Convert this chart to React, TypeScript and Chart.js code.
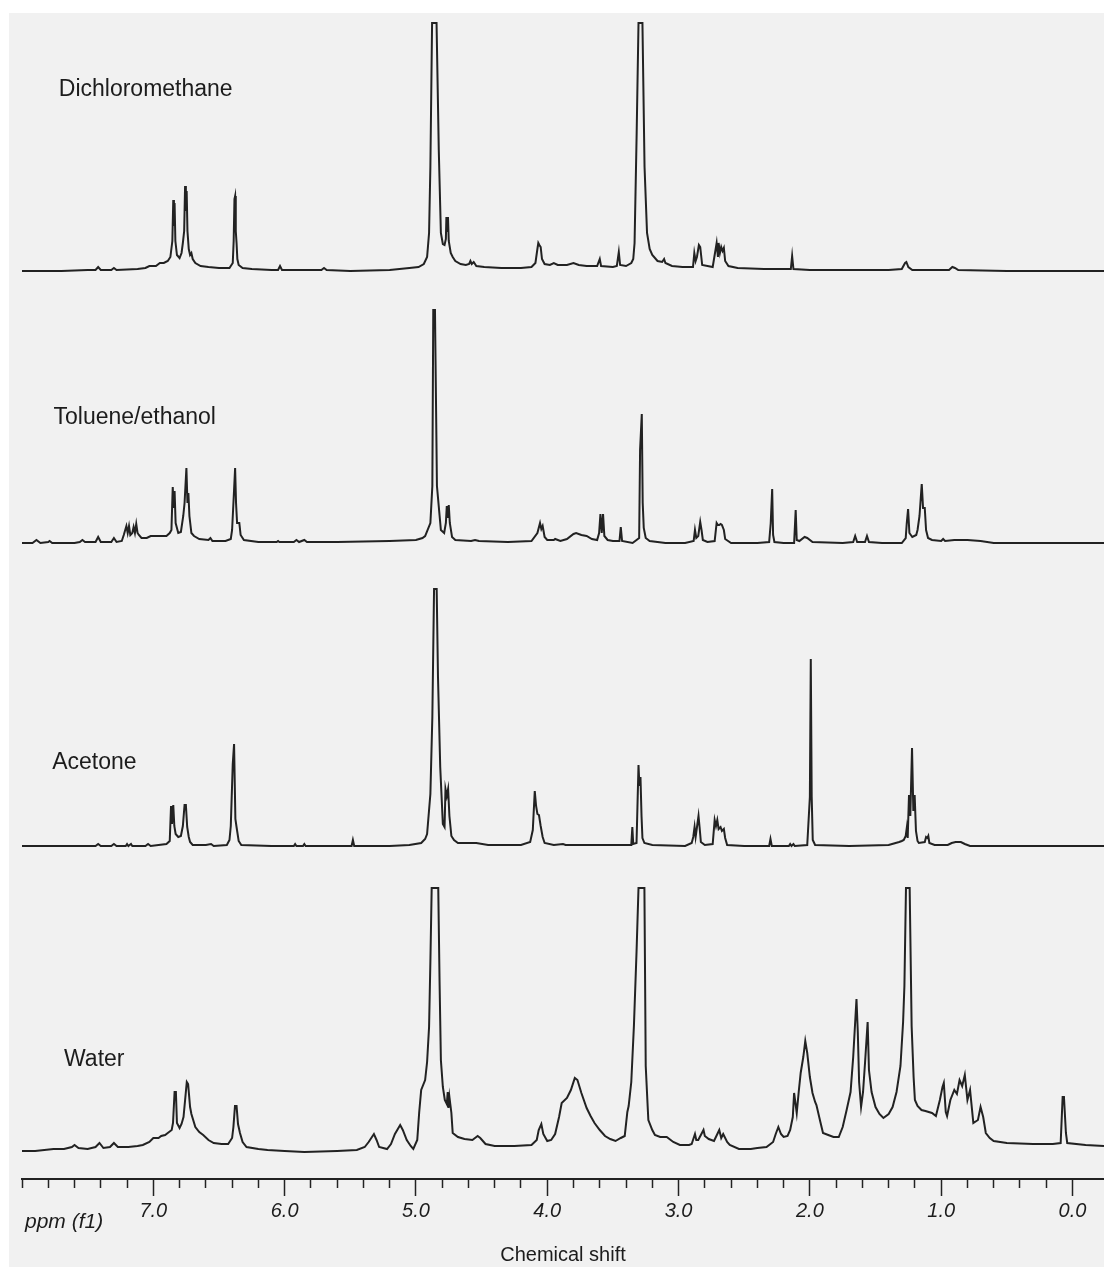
import { useEffect, useRef } from "react";
import { Chart, registerables } from "chart.js";

Chart.register(...registerables);

// ---------- data ----------
const PPM_MIN = -0.24;
const PPM_MAX = 8.0;
const TICK_STEP = 0.2;
const LABELLED_MAX = 7.0;
const AXIS_TITLE = "Chemical shift";
const UNIT_LABEL = "ppm (f1)";
const SPECTRUM_NAMES = ["Dichloromethane", "Toluene/ethanol", "Acetone", "Water"];

// [ppm, intensity] pairs
const DCM: number[][] = [
  [8.0, 0], [7.7, 0], [7.5, 1], [7.44, 1], [7.42, 4], [7.4, 1], [7.32, 1], [7.3, 3], [7.28, 1], [7.12, 2], [7.06, 3], [7.03, 5], [6.98, 5],
  [6.95, 8], [6.92, 8], [6.89, 10], [6.87, 14], [6.855, 30], [6.848, 71], [6.843, 45], [6.838, 68], [6.832, 30], [6.82, 16], [6.8, 13],
  [6.785, 18], [6.775, 28], [6.765, 40], [6.758, 85], [6.752, 60], [6.746, 80], [6.74, 40], [6.73, 22], [6.72, 16], [6.71, 18], [6.7, 12],
  [6.68, 8], [6.64, 5], [6.58, 4], [6.5, 3], [6.42, 3], [6.395, 8], [6.388, 30], [6.382, 72], [6.377, 75], [6.372, 40], [6.366, 28],
  [6.36, 12], [6.35, 6], [6.32, 3], [6.25, 2], [6.1, 1], [6.05, 1], [6.035, 5], [6.02, 1], [5.95, 1], [5.72, 1], [5.7, 3], [5.68, 1],
  [5.5, 0], [5.2, 1], [5.05, 3], [4.98, 4], [4.94, 7], [4.915, 14], [4.9, 38], [4.89, 104], [4.877, 248], [4.843, 248], [4.826, 121],
  [4.81, 38], [4.795, 27], [4.782, 26], [4.772, 32], [4.768, 54], [4.762, 40], [4.756, 54], [4.75, 30], [4.735, 18], [4.72, 14],
  [4.7, 10], [4.66, 7], [4.62, 6], [4.595, 7], [4.585, 10], [4.575, 7], [4.56, 9], [4.54, 5], [4.48, 4], [4.35, 3], [4.2, 3], [4.12, 4],
  [4.09, 8], [4.075, 22], [4.068, 28], [4.06, 26], [4.05, 24], [4.04, 12], [4.02, 7], [3.98, 6], [3.95, 8], [3.92, 6], [3.85, 6],
  [3.8, 8], [3.76, 6], [3.7, 5], [3.62, 5], [3.6, 12], [3.59, 5], [3.5, 4], [3.47, 5], [3.455, 19], [3.445, 6], [3.4, 5], [3.36, 8],
  [3.345, 12], [3.335, 28], [3.319, 138], [3.305, 248], [3.275, 248], [3.259, 104], [3.24, 38], [3.22, 22], [3.2, 16], [3.16, 10],
  [3.125, 9], [3.11, 12], [3.1, 8], [3.05, 5], [2.97, 4], [2.89, 4], [2.88, 18], [2.87, 10], [2.86, 14], [2.845, 26], [2.835, 24],
  [2.82, 6], [2.74, 4], [2.71, 28], [2.7, 14], [2.695, 28], [2.685, 18], [2.675, 24], [2.665, 20], [2.655, 23], [2.645, 10], [2.62, 5],
  [2.55, 3], [2.35, 2], [2.145, 2], [2.135, 15], [2.125, 2], [2.0, 1], [1.8, 1], [1.4, 1], [1.3, 2], [1.275, 8], [1.265, 9], [1.25, 4],
  [1.22, 1], [0.94, 1], [0.915, 4], [0.895, 3], [0.87, 1], [0.5, 0], [-0.24, 0],
];

const TOLUENE_ETHANOL: number[][] = [
  [8.0, 0], [7.92, 0], [7.89, 3], [7.86, 0], [7.8, 1], [7.79, 2], [7.77, 0], [7.6, 0], [7.56, 1], [7.54, 3], [7.52, 1], [7.44, 1],
  [7.42, 6], [7.4, 1], [7.32, 1], [7.3, 5], [7.28, 1], [7.24, 2], [7.225, 8], [7.205, 17], [7.195, 10], [7.185, 17], [7.175, 8],
  [7.16, 10], [7.15, 16], [7.14, 10], [7.13, 19], [7.12, 10], [7.11, 8], [7.09, 5], [7.05, 5], [7.02, 7], [6.95, 7], [6.9, 7],
  [6.875, 10], [6.862, 13], [6.852, 56], [6.845, 35], [6.838, 52], [6.83, 20], [6.81, 10], [6.79, 11], [6.772, 27], [6.762, 40],
  [6.748, 75], [6.74, 40], [6.733, 50], [6.725, 27], [6.71, 10], [6.69, 7], [6.65, 4], [6.58, 3], [6.565, 5], [6.55, 2], [6.45, 2],
  [6.41, 4], [6.4, 13], [6.385, 53], [6.377, 75], [6.37, 40], [6.362, 20], [6.345, 20], [6.335, 8], [6.31, 3], [6.2, 1], [6.06, 1],
  [6.05, 2], [6.04, 1], [5.93, 1], [5.91, 3], [5.89, 1], [5.85, 3], [5.83, 1], [5.6, 1], [5.2, 2], [5.0, 3], [4.95, 5], [4.93, 7],
  [4.89, 20], [4.875, 57], [4.868, 233], [4.855, 233], [4.84, 57], [4.81, 13], [4.785, 10], [4.772, 20], [4.765, 37], [4.757, 25],
  [4.75, 38], [4.742, 20], [4.725, 6], [4.7, 3], [4.58, 2], [4.55, 3], [4.52, 2], [4.3, 1], [4.12, 2], [4.075, 10], [4.055, 20],
  [4.045, 14], [4.035, 17], [4.02, 6], [4.0, 3], [3.95, 3], [3.94, 4], [3.9, 2], [3.85, 4], [3.8, 9], [3.78, 10], [3.74, 8], [3.7, 7],
  [3.66, 4], [3.62, 3], [3.605, 10], [3.595, 29], [3.585, 10], [3.575, 29], [3.565, 7], [3.54, 3], [3.5, 2], [3.45, 2], [3.44, 16],
  [3.43, 2], [3.35, 0], [3.3, 5], [3.293, 93], [3.28, 129], [3.273, 40], [3.265, 15], [3.25, 5], [3.22, 2], [3.1, 0], [2.95, 0],
  [2.885, 2], [2.875, 13], [2.865, 5], [2.85, 7], [2.835, 21], [2.825, 13], [2.815, 3], [2.78, 1], [2.725, 2], [2.71, 20], [2.7, 18],
  [2.69, 18], [2.68, 19], [2.67, 18], [2.655, 13], [2.645, 4], [2.6, 0], [2.4, 0], [2.31, 1], [2.298, 20], [2.287, 54], [2.28, 8],
  [2.27, 1], [2.2, 0], [2.12, 0], [2.108, 33], [2.1, 3], [2.08, 2], [2.04, 6], [2.02, 5], [1.98, 1], [1.75, 0], [1.67, 1], [1.655, 7],
  [1.64, 1], [1.58, 1], [1.565, 7], [1.55, 1], [1.45, 0], [1.3, 0], [1.27, 5], [1.262, 20], [1.252, 34], [1.242, 10], [1.22, 6],
  [1.19, 8], [1.18, 13], [1.165, 27], [1.148, 59], [1.138, 35], [1.125, 35], [1.115, 13], [1.1, 5], [1.07, 3], [1.0, 2], [0.985, 4],
  [0.97, 2], [0.9, 3], [0.8, 3], [0.7, 2], [0.6, 0], [-0.24, 0],
];

const ACETONE: number[][] = [
  [8.0, 0], [7.6, 0], [7.44, 0], [7.42, 2], [7.4, 0], [7.32, 0], [7.3, 2], [7.28, 0], [7.21, 0], [7.2, 2], [7.19, 0], [7.17, 2],
  [7.16, 0], [7.06, 0], [7.04, 2], [7.02, 0], [6.96, 1], [6.9, 2], [6.875, 5], [6.865, 40], [6.858, 22], [6.848, 41], [6.84, 20],
  [6.83, 12], [6.81, 9], [6.79, 10], [6.775, 20], [6.762, 41], [6.752, 41], [6.742, 19], [6.73, 9], [6.72, 4], [6.7, 1], [6.6, 1],
  [6.56, 2], [6.54, 0], [6.44, 1], [6.42, 6], [6.41, 20], [6.395, 82], [6.385, 102], [6.375, 27], [6.365, 18], [6.35, 5], [6.33, 1],
  [6.1, 0], [5.93, 0], [5.92, 2], [5.91, 0], [5.86, 0], [5.85, 2], [5.84, 0], [5.49, 0], [5.48, 6], [5.47, 0], [5.2, 0], [5.05, 1],
  [4.96, 3], [4.93, 7], [4.915, 12], [4.89, 52], [4.875, 129], [4.862, 257], [4.842, 257], [4.832, 169], [4.815, 79], [4.795, 22],
  [4.782, 19], [4.775, 57], [4.765, 50], [4.755, 57], [4.745, 30], [4.73, 10], [4.71, 6], [4.68, 3], [4.58, 3], [4.54, 3], [4.45, 1],
  [4.2, 1], [4.13, 4], [4.11, 16], [4.095, 55], [4.085, 40], [4.075, 32], [4.063, 31], [4.05, 20], [4.035, 9], [4.02, 3], [3.95, 1],
  [3.88, 2], [3.86, 1], [3.6, 1], [3.36, 1], [3.352, 19], [3.345, 2], [3.32, 3], [3.305, 81], [3.298, 60], [3.29, 69], [3.282, 30],
  [3.275, 8], [3.26, 3], [3.2, 1], [2.95, 0], [2.9, 3], [2.888, 9], [2.878, 19], [2.87, 9], [2.848, 30], [2.84, 19], [2.83, 4],
  [2.8, 1], [2.74, 2], [2.725, 26], [2.715, 20], [2.705, 26], [2.695, 17], [2.68, 19], [2.67, 15], [2.655, 17], [2.645, 8], [2.63, 1],
  [2.5, 0], [2.31, 0], [2.3, 7], [2.29, 0], [2.16, 0], [2.15, 2], [2.14, 0], [2.125, 2], [2.115, 0], [2.02, 1], [2.0, 49], [1.993, 187],
  [1.986, 49], [1.978, 6], [1.96, 1], [1.7, 0], [1.4, 1], [1.32, 4], [1.3, 5], [1.285, 6], [1.27, 10], [1.262, 18], [1.255, 8],
  [1.245, 51], [1.235, 30], [1.222, 98], [1.212, 35], [1.202, 51], [1.192, 15], [1.18, 5], [1.17, 3], [1.125, 4], [1.115, 9],
  [1.105, 8], [1.098, 10], [1.09, 3], [1.05, 1], [0.95, 1], [0.92, 3], [0.89, 4], [0.85, 4], [0.82, 2], [0.78, 0], [-0.24, 0],
];

const WATER: number[][] = [
  [8.0, 1], [7.9, 1], [7.76, 3], [7.68, 3], [7.62, 5], [7.6, 7], [7.57, 4], [7.5, 3], [7.44, 5], [7.41, 9], [7.38, 4], [7.33, 5],
  [7.3, 9], [7.27, 5], [7.19, 5], [7.12, 6], [7.08, 7], [7.03, 10], [7.0, 14], [6.96, 14], [6.94, 16], [6.91, 17], [6.89, 19],
  [6.86, 22], [6.85, 29], [6.838, 60], [6.828, 60], [6.82, 29], [6.8, 24], [6.785, 28], [6.77, 35], [6.745, 70], [6.735, 68],
  [6.72, 45], [6.71, 38], [6.68, 25], [6.65, 20], [6.62, 17], [6.58, 12], [6.54, 9], [6.48, 8], [6.43, 8], [6.4, 14], [6.39, 25],
  [6.378, 46], [6.366, 46], [6.355, 28], [6.34, 19], [6.32, 10], [6.29, 5], [6.2, 3], [6.13, 2], [6.0, 1], [5.85, 0], [5.6, 1],
  [5.45, 2], [5.39, 5], [5.36, 10], [5.32, 18], [5.3, 12], [5.28, 5], [5.22, 3], [5.19, 8], [5.16, 18], [5.12, 27], [5.1, 22],
  [5.07, 12], [5.04, 6], [5.02, 3], [4.99, 12], [4.975, 40], [4.96, 62], [4.93, 72], [4.915, 90], [4.9, 125], [4.89, 190], [4.88, 264],
  [4.83, 264], [4.82, 170], [4.81, 92], [4.795, 65], [4.78, 52], [4.765, 48], [4.758, 60], [4.752, 44], [4.745, 55], [4.73, 39],
  [4.72, 19], [4.68, 15], [4.63, 13], [4.57, 12], [4.53, 16], [4.51, 14], [4.47, 8], [4.4, 6], [4.25, 6], [4.12, 7], [4.08, 12],
  [4.065, 22], [4.045, 28], [4.03, 18], [4.0, 11], [3.97, 12], [3.94, 18], [3.91, 35], [3.89, 49], [3.85, 54], [3.82, 62], [3.79, 74],
  [3.77, 72], [3.74, 59], [3.7, 44], [3.67, 36], [3.64, 29], [3.6, 22], [3.56, 16], [3.52, 13], [3.48, 11], [3.44, 14], [3.41, 16],
  [3.39, 40], [3.38, 46], [3.36, 70], [3.34, 126], [3.32, 200], [3.305, 264], [3.26, 264], [3.25, 86], [3.235, 45], [3.23, 32],
  [3.2, 22], [3.18, 17], [3.14, 15], [3.09, 15], [3.04, 10], [2.99, 7], [2.92, 7], [2.9, 8], [2.875, 18], [2.865, 12], [2.85, 12],
  [2.81, 22], [2.8, 16], [2.77, 13], [2.73, 11], [2.69, 22], [2.675, 14], [2.66, 18], [2.63, 10], [2.61, 7], [2.54, 3], [2.45, 3],
  [2.4, 4], [2.33, 5], [2.28, 10], [2.26, 18], [2.24, 25], [2.22, 18], [2.2, 15], [2.17, 16], [2.15, 22], [2.13, 35], [2.12, 59],
  [2.1, 39], [2.085, 60], [2.07, 79], [2.05, 95], [2.035, 111], [2.02, 99], [2.0, 75], [1.98, 59], [1.96, 50], [1.95, 47], [1.92, 30],
  [1.9, 19], [1.86, 17], [1.82, 15], [1.78, 15], [1.75, 25], [1.72, 42], [1.69, 60], [1.67, 95], [1.645, 153], [1.635, 120],
  [1.625, 70], [1.61, 45], [1.595, 60], [1.58, 89], [1.56, 130], [1.55, 82], [1.53, 60], [1.5, 45], [1.47, 38], [1.44, 34], [1.4, 38],
  [1.37, 45], [1.34, 60], [1.31, 86], [1.29, 130], [1.28, 166], [1.268, 264], [1.24, 264], [1.225, 126], [1.21, 75], [1.2, 52],
  [1.18, 46], [1.15, 42], [1.12, 41], [1.07, 39], [1.04, 36], [1.01, 52], [0.99, 65], [0.98, 69], [0.965, 40], [0.955, 36], [0.93, 52],
  [0.9, 62], [0.88, 58], [0.86, 72], [0.84, 66], [0.82, 77], [0.8, 52], [0.78, 62], [0.755, 29], [0.72, 32], [0.7, 45], [0.68, 35],
  [0.66, 19], [0.63, 14], [0.6, 11], [0.5, 9], [0.3, 8], [0.15, 8], [0.09, 9], [0.075, 55], [0.065, 55], [0.05, 19], [0.04, 9],
  [-0.1, 7], [-0.24, 6],
];

const SERIES = [DCM, TOLUENE_ETHANOL, ACETONE, WATER];

// ---------- layout / style ----------
const Y_MAX = 1165;
const OFFSETS = [908, 636, 333, 27];
const LABEL_ANCHORS = [
  [7.72, 1089],
  [7.76, 761],
  [7.77, 416],
  [7.68, 119],
];
const FONT = '"Liberation Sans", Arial, Helvetica, sans-serif';
const INK = "#222222";

const isMajor = (v: number) => Math.abs(v - Math.round(v)) < 1e-6;

const labelPlugin = {
  id: "spectrumLabels",
  afterDraw(chart: any) {
    const { ctx } = chart;
    const xs = chart.scales.x;
    const ys = chart.scales.y;
    ctx.save();
    ctx.fillStyle = "#1c1c1c";
    ctx.textBaseline = "middle";
    ctx.textAlign = "left";
    ctx.font = `23px ${FONT}`;
    SPECTRUM_NAMES.forEach((name, i) => {
      ctx.fillText(name, xs.getPixelForValue(LABEL_ANCHORS[i][0]), ys.getPixelForValue(LABEL_ANCHORS[i][1]));
    });
    ctx.font = `italic 21px ${FONT}`;
    ctx.fillText(UNIT_LABEL, xs.left + 3, xs.top + 43);
    ctx.restore();
  },
};

export default function App() {
  const ref = useRef<HTMLCanvasElement | null>(null);

  useEffect(() => {
    if (!ref.current) return;
    const datasets = SERIES.map((s, i) => ({
      label: SPECTRUM_NAMES[i],
      data: s.map(([ppm, v]) => ({ x: ppm, y: v + OFFSETS[i] })),
      borderColor: INK,
      borderWidth: 2,
      pointRadius: 0,
      tension: 0,
      fill: false,
    }));
    const chart = new Chart(ref.current, {
      type: "line",
      data: { datasets },
      plugins: [labelPlugin],
      options: {
        responsive: false,
        maintainAspectRatio: false,
        animation: false,
        events: [],
        layout: { padding: { left: 22, right: 0, top: 14, bottom: 0 } },
        plugins: { legend: { display: false }, tooltip: { enabled: false } },
        scales: {
          x: {
            type: "linear",
            reverse: true,
            min: PPM_MIN,
            max: PPM_MAX,
            afterBuildTicks: (s: any) => {
              s.ticks = s.ticks.filter((t: any) => t.value >= -1e-6 && t.value <= PPM_MAX + 1e-6);
            },
            afterFit: (s: any) => {
              s.height = 88;
            },
            ticks: {
              stepSize: TICK_STEP,
              autoSkip: false,
              maxRotation: 0,
              minRotation: 0,
              padding: 3,
              color: "#1c1c1c",
              font: { family: FONT, size: 20, style: "italic" },
              callback: (v: any) => {
                const n = Number(v);
                return isMajor(n) && n <= LABELLED_MAX + 1e-6 ? n.toFixed(1) : "";
              },
            },
            grid: {
              display: true,
              drawOnChartArea: false,
              drawTicks: true,
              tickLength: 17,
              tickWidth: 1.5,
              tickColor: INK,
              tickBorderDash: (c: any) => (c.tick && isMajor(c.tick.value) && c.tick.value <= LABELLED_MAX + 1e-6 ? [] : [8, 60]),
            },
            border: { display: true, color: INK, width: 2 },
            title: {
              display: true,
              text: AXIS_TITLE,
              color: "#1c1c1c",
              font: { family: FONT, size: 20, lineHeight: 1.2 },
              padding: { top: 0, bottom: 0 },
            },
          },
          y: { display: false, min: 0, max: Y_MAX },
        },
      } as any,
    });
    return () => chart.destroy();
  }, []);

  return (
    <div style={{ position: "absolute", left: 0, top: 0, width: 1104, height: 1267, background: "#ffffff", overflow: "hidden" }}>
      <div style={{ position: "absolute", left: 9, top: 13, right: 0, bottom: 0, background: "#f1f1f1" }} />
      <canvas ref={ref} width={1104} height={1267} style={{ position: "absolute", left: 0, top: 0, width: 1104, height: 1267 }} />
    </div>
  );
}
